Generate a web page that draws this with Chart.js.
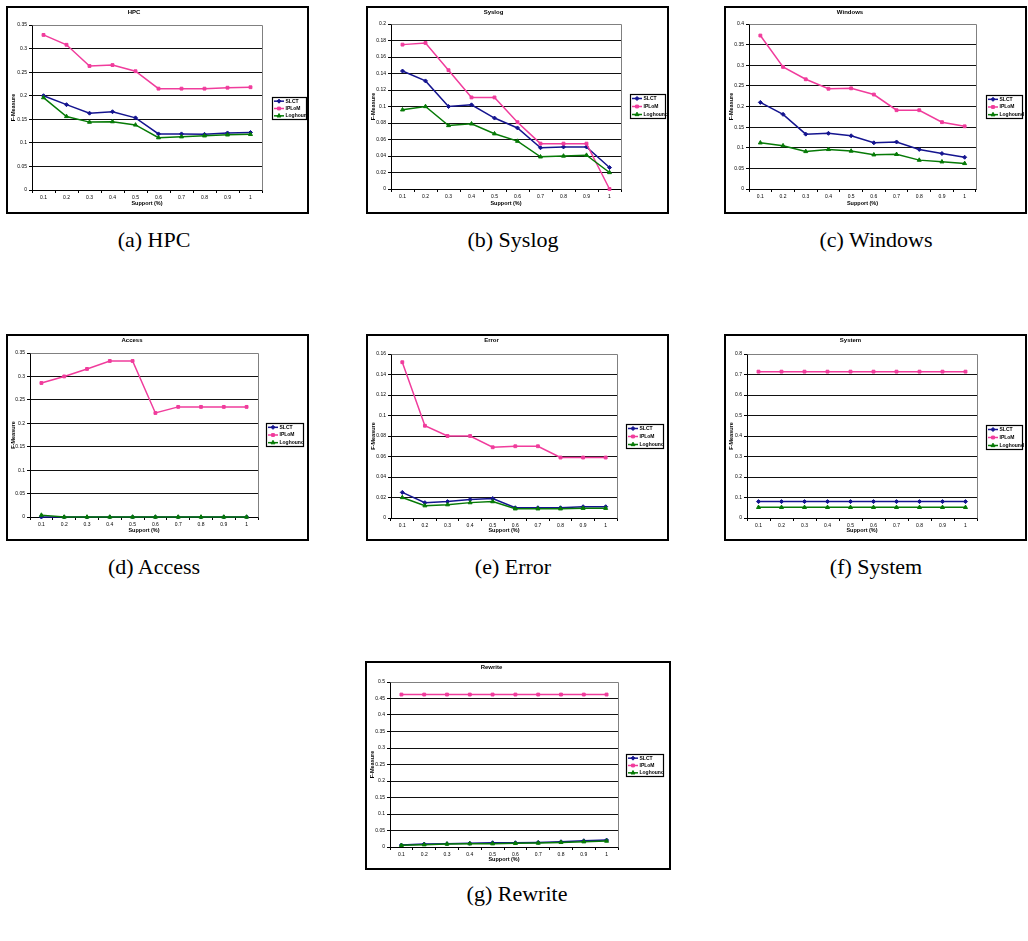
<!DOCTYPE html>
<html>
<head>
<meta charset="utf-8">
<title>F-Measure vs Support</title>
<script src="https://cdn.jsdelivr.net/npm/chart.js@4.4.1/dist/chart.umd.min.js"></script>
<style>
  body { margin: 0; background: #fff; width: 1028px; height: 941px; position: relative; overflow: hidden; }
  .panel { position: absolute; box-shadow: inset 0 0 0 2px #000; }
  .panel canvas { position: absolute; left: 0; top: 0; }
  .caption {
    position: absolute; transform: translate(-50%, -50%); white-space: nowrap;
    font-family: "Liberation Serif", "DejaVu Serif", serif; font-size: 22px; color: #000;
  }
</style>
</head>
<body>
<script>
// x categories (support %) shared by every panel
const supportLabels = ["0.1", "0.2", "0.3", "0.4", "0.5", "0.6", "0.7", "0.8", "0.9", "1"];
const seriesNames = ["SLCT", "IPLoM", "Loghound"];

// F-Measure values
const hpcSlct     = [0.200, 0.181, 0.163, 0.166, 0.153, 0.119, 0.119, 0.118, 0.121, 0.122];
const hpcIplom    = [0.329, 0.308, 0.263, 0.265, 0.252, 0.215, 0.215, 0.215, 0.217, 0.218];
const hpcLoghound = [0.196, 0.156, 0.144, 0.145, 0.138, 0.111, 0.113, 0.115, 0.117, 0.118];

const syslogSlct     = [0.143, 0.131, 0.100, 0.102, 0.086, 0.074, 0.050, 0.051, 0.051, 0.026];
const syslogIplom    = [0.175, 0.177, 0.144, 0.111, 0.111, 0.081, 0.055, 0.055, 0.055, 0.000];
const syslogLoghound = [0.096, 0.100, 0.077, 0.079, 0.067, 0.058, 0.039, 0.040, 0.041, 0.020];

const windowsSlct     = [0.210, 0.181, 0.133, 0.135, 0.129, 0.112, 0.114, 0.096, 0.086, 0.077];
const windowsIplom    = [0.372, 0.296, 0.266, 0.243, 0.244, 0.229, 0.191, 0.191, 0.162, 0.152];
const windowsLoghound = [0.112, 0.105, 0.091, 0.096, 0.092, 0.083, 0.084, 0.070, 0.066, 0.062];

const accessSlct     = [0.000, 0.000, 0.000, 0.000, 0.000, 0.000, 0.000, 0.000, 0.000, 0.000];
const accessIplom    = [0.286, 0.300, 0.316, 0.333, 0.333, 0.222, 0.235, 0.235, 0.235, 0.235];
const accessLoghound = [0.004, 0.000, 0.000, 0.000, 0.000, 0.000, 0.000, 0.000, 0.000, 0.000];

const errorSlct     = [0.025, 0.015, 0.016, 0.018, 0.019, 0.010, 0.010, 0.010, 0.011, 0.011];
const errorIplom    = [0.152, 0.090, 0.080, 0.080, 0.069, 0.070, 0.070, 0.059, 0.059, 0.059];
const errorLoghound = [0.020, 0.012, 0.013, 0.015, 0.016, 0.009, 0.009, 0.009, 0.0095, 0.0095];

const systemSlct     = [0.080, 0.080, 0.080, 0.080, 0.080, 0.080, 0.080, 0.080, 0.080, 0.080];
const systemIplom    = [0.714, 0.714, 0.714, 0.714, 0.714, 0.714, 0.714, 0.714, 0.714, 0.714];
const systemLoghound = [0.052, 0.052, 0.052, 0.052, 0.052, 0.052, 0.052, 0.052, 0.052, 0.052];

const rewriteSlct     = [0.006, 0.009, 0.010, 0.011, 0.013, 0.013, 0.014, 0.016, 0.019, 0.021];
const rewriteIplom    = [0.462, 0.462, 0.462, 0.462, 0.462, 0.462, 0.462, 0.462, 0.462, 0.462];
const rewriteLoghound = [0.005, 0.007, 0.009, 0.010, 0.010, 0.011, 0.012, 0.014, 0.016, 0.018];

// series look (Excel style)
const seriesColors = ["#14148f", "#f03c9c", "#067a06"];
const seriesMarkers = ["rectRot", "rect", "triangle"];
const seriesRadius = [2, 2, 2.3];

// panel layout: box position/size, plot rect [left, right, top, bottom], legend [x, y, w, h]
const panels = [
  { title: "HPC", caption: "(a) HPC", left: 6, top: 6, w: 303, h: 208, plot: [26, 256, 19, 184], legend: [266, 91, 34, 22], yMax: 0.35, yStep: 0.05, cx: 154, cy: 240, values: [hpcSlct, hpcIplom, hpcLoghound] },
  { title: "Syslog", caption: "(b) Syslog", left: 366, top: 6, w: 303, h: 208, plot: [25, 255, 18, 183], legend: [264, 88, 35, 24], yMax: 0.2, yStep: 0.02, cx: 513, cy: 240, values: [syslogSlct, syslogIplom, syslogLoghound] },
  { title: "Windows", caption: "(c) Windows", left: 724, top: 6, w: 303, h: 208, plot: [25, 252, 18, 183], legend: [262, 89, 36, 23], yMax: 0.4, yStep: 0.05, cx: 876, cy: 240, values: [windowsSlct, windowsIplom, windowsLoghound] },
  { title: "Access", caption: "(d) Access", left: 6, top: 334, w: 303, h: 207, plot: [24, 252, 19, 183], legend: [260, 89, 37, 23], yMax: 0.35, yStep: 0.05, cx: 154, cy: 567, values: [accessSlct, accessIplom, accessLoghound] },
  { title: "Error", caption: "(e) Error", left: 366, top: 334, w: 303, h: 207, plot: [25, 251, 20, 184], legend: [260, 90, 37, 24], yMax: 0.16, yStep: 0.02, cx: 513, cy: 567, values: [errorSlct, errorIplom, errorLoghound] },
  { title: "System", caption: "(f) System", left: 724, top: 334, w: 303, h: 207, plot: [23, 253, 20, 184], legend: [262, 91, 36, 24], yMax: 0.8, yStep: 0.1, cx: 876, cy: 567, values: [systemSlct, systemIplom, systemLoghound] },
  { title: "Rewrite", caption: "(g) Rewrite", left: 365, top: 661, w: 306, h: 209, plot: [25, 253, 21, 186], legend: [261, 93, 37, 22], yMax: 0.5, yStep: 0.05, cx: 517, cy: 894, values: [rewriteSlct, rewriteIplom, rewriteLoghound] }
];

const FONT = '"Liberation Sans", Arial, sans-serif';

// gray plot-area frame on top and right, like Excel
const plotFrame = {
  id: "plotFrame",
  beforeDatasetsDraw(chart) {
    const { ctx, chartArea: a } = chart;
    ctx.save();
    ctx.strokeStyle = "#808080";
    ctx.lineWidth = 1;
    ctx.beginPath();
    ctx.moveTo(Math.round(a.left) + 0.5, Math.round(a.top) + 0.5);
    ctx.lineTo(Math.round(a.right) + 0.5, Math.round(a.top) + 0.5);
    ctx.lineTo(Math.round(a.right) + 0.5, Math.round(a.bottom) + 0.5);
    ctx.stroke();
    ctx.restore();
  }
};

// boxed legend with line + marker samples
const boxLegend = {
  id: "boxLegend",
  afterDraw(chart, args, opts) {
    const [x, y, w, h] = opts.rect;
    const ctx = chart.ctx;
    ctx.save();
    ctx.fillStyle = "#fff";
    ctx.fillRect(x, y, w, h);
    ctx.strokeStyle = "#000";
    ctx.lineWidth = 1.2;
    ctx.strokeRect(x + 0.5, y + 0.5, w, h);
    const step = h / 3;
    chart.data.datasets.forEach((ds, i) => {
      const cy = y + step * (i + 0.5) + 0.5;
      ctx.strokeStyle = ds.borderColor;
      ctx.lineWidth = 1.5;
      ctx.beginPath();
      ctx.moveTo(x + 2, cy);
      ctx.lineTo(x + 12, cy);
      ctx.stroke();
      ctx.fillStyle = ds.pointBackgroundColor;
      ctx.strokeStyle = ds.pointBorderColor;
      ctx.lineWidth = 1;
      Chart.helpers.drawPoint(ctx, { pointStyle: ds.pointStyle, radius: ds.pointRadius, borderWidth: 1, rotation: 0 }, x + 7, cy);
      ctx.fillStyle = "#000";
      ctx.font = "bold 5px " + FONT;
      ctx.textBaseline = "middle";
      ctx.textAlign = "left";
      ctx.fillText(ds.label, x + 13.5, cy);
    });
    ctx.restore();
  }
};

function buildPanel(p) {
  const div = document.createElement("div");
  div.className = "panel";
  div.style.left = p.left + "px";
  div.style.top = p.top + "px";
  div.style.width = p.w + "px";
  div.style.height = p.h + "px";
  const canvas = document.createElement("canvas");
  canvas.width = p.w;
  canvas.height = p.h;
  div.appendChild(canvas);
  document.body.appendChild(div);

  const cap = document.createElement("div");
  cap.className = "caption";
  cap.style.left = p.cx + "px";
  cap.style.top = p.cy + "px";
  cap.textContent = p.caption;
  document.body.appendChild(cap);

  const [pl, pr, pt, pb] = p.plot;
  const datasets = seriesNames.map((name, i) => ({
    label: name,
    data: p.values[i],
    borderColor: seriesColors[i],
    backgroundColor: seriesColors[i],
    pointBackgroundColor: seriesColors[i],
    pointBorderColor: seriesColors[i],
    pointStyle: seriesMarkers[i],
    pointRadius: seriesRadius[i],
    pointBorderWidth: 1,
    borderWidth: 1.5,
    tension: 0,
    clip: false,
    order: 2 - i
  }));

  new Chart(canvas.getContext("2d"), {
    type: "line",
    data: { labels: supportLabels, datasets },
    options: {
      responsive: false,
      animation: false,
      events: [],
      layout: { padding: { left: 0, right: p.w - pr, top: 0, bottom: 0 } },
      plugins: {
        legend: { display: false },
        tooltip: { enabled: false },
        title: {
          display: true,
          text: p.title,
          color: "#000",
          font: { family: FONT, size: 6, weight: "bold", lineHeight: 1.2 },
          padding: { top: 3, bottom: pt - 3 - 7.2 }
        },
        boxLegend: { rect: p.legend }
      },
      scales: {
        x: {
          type: "category",
          offset: true,
          grid: { offset: true, drawOnChartArea: false, drawTicks: true, tickLength: 3, color: "#000", tickColor: "#000" },
          border: { color: "#000", width: 1 },
          ticks: { color: "#000", font: { family: FONT, size: 5 }, padding: 2, maxRotation: 0, autoSkip: false },
          title: { display: true, text: "Support (%)", color: "#000", font: { family: FONT, size: 5.5, weight: "bold" }, padding: { top: 7, bottom: 7 } },
          afterFit(s) { s.height = p.h - pb; }
        },
        y: {
          min: 0,
          max: p.yMax,
          grid: {
            color: (c) => (c.tick && c.tick.value >= p.yMax - 1e-9 ? "#808080" : "#111"),
            tickColor: "#000",
            tickLength: 3,
            lineWidth: 1
          },
          border: { color: "#000", width: 1 },
          ticks: {
            stepSize: p.yStep,
            color: "#000",
            font: { family: FONT, size: 5 },
            padding: 2,
            callback: (v) => String(+Number(v).toFixed(3))
          },
          title: { display: true, text: "F-Measure", color: "#000", font: { family: FONT, size: 5.5, weight: "bold" }, padding: { top: 4, bottom: 0 } },
          afterFit(s) { s.width = pl; }
        }
      }
    },
    plugins: [plotFrame, boxLegend]
  });
}

panels.forEach(buildPanel);
</script>
</body>
</html>
